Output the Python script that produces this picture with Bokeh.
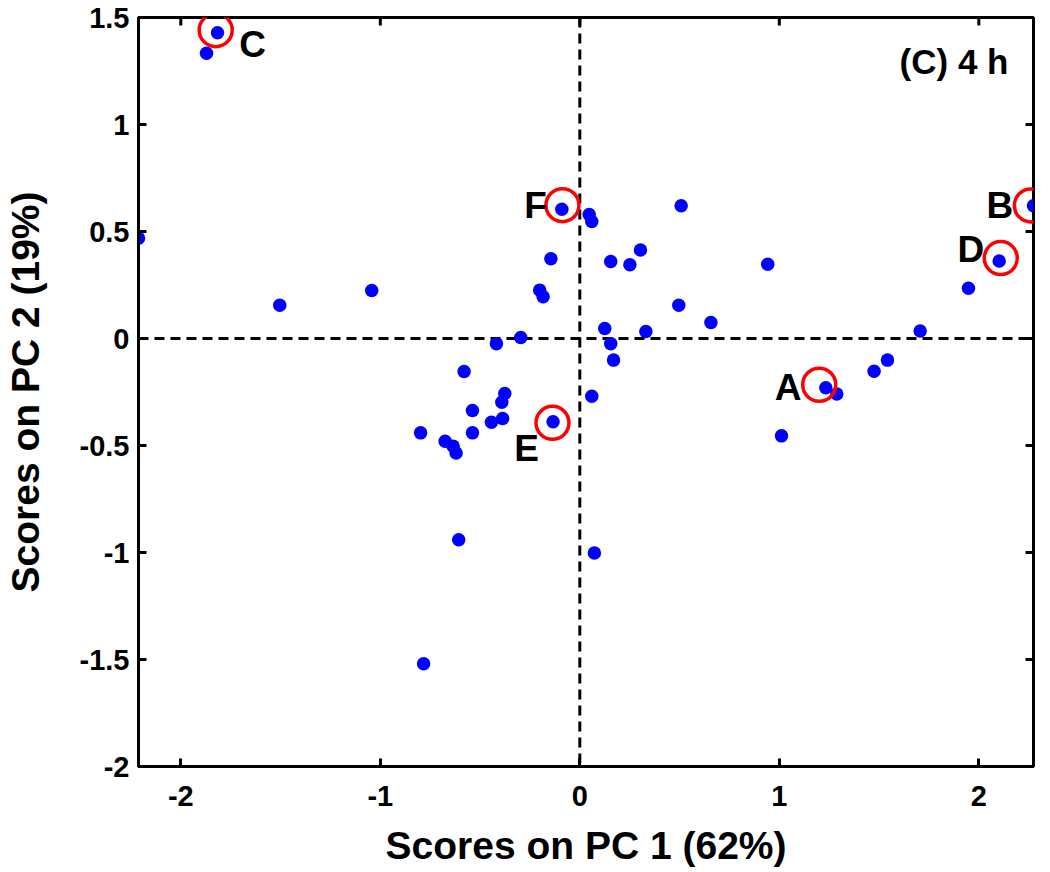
import math
from bokeh.plotting import figure
from bokeh.models import Range1d, FixedTicker, Span, ColumnDataSource, Label
from bokeh.core.properties import value
from bokeh.embed import file_html
from bokeh.resources import INLINE

# ---- data ----
pc1 = [-2.212, -1.871, -1.816, -1.504, -1.043, -0.580, -0.090, 0.047, 0.060, 0.508,
       -0.145, 0.155, 0.251, 0.304, 0.942, -0.201, -0.184, 0.496, 0.657, 0.125,
       0.331, -0.296, -0.418, 0.155, 0.169, -0.376, -0.391, 0.060, -0.538, -0.443,
       -0.387, -0.134, -0.798, -0.538, -0.675, -0.635, -0.620, -0.607, 0.073, -0.783,
       1.011, 1.233, 1.288, 1.475, 1.542, 1.706, 1.948, 2.102, 2.274]
pc2 = [0.469, 1.333, 1.429, 0.155, 0.224, -0.154, 0.604, 0.579, 0.547, 0.620,
       0.373, 0.360, 0.345, 0.414, 0.347, 0.226, 0.195, 0.155, 0.075, 0.047,
       0.033, 0.005, -0.024, -0.024, -0.101, -0.257, -0.298, -0.270, -0.336, -0.391,
       -0.374, -0.389, -0.441, -0.441, -0.480, -0.503, -0.535, -0.940, -1.002, -1.520,
       -0.455, -0.230, -0.259, -0.153, -0.101, 0.035, 0.235, 0.362, 0.620]

hl_labels = ["A", "B", "C", "D", "E", "F"]
hl_pc1 = [1.200, 2.261, -1.825, 2.110, -0.137, -0.087]
hl_pc2 = [-0.216, 0.622, 1.441, 0.376, -0.394, 0.623]

x_ticks = [-2, -1, 0, 1, 2]
x_tick_labels = ["-2", "-1", "0", "1", "2"]
y_ticks = [-2, -1.5, -1, -0.5, 0, 0.5, 1, 1.5]
y_tick_labels = ["-2", "-1.5", "-1", "-0.5", "0", "0.5", "1", "1.5"]

x_title = "Scores on PC 1 (62%)"
y_title = "Scores on PC 2 (19%)"
panel_title = "(C) 4 h"

# ---- layout / style ----
FONT = "Liberation Sans"
# label offsets in screen pixels (dx right, dy down) relative to circle centres
label_dx = {"A": -31, "B": -31, "C": 37, "D": -30, "E": -26, "F": -27}
label_dy = {"A": 3, "B": 0, "C": 14, "D": -9, "E": 26, "F": 0}

x_lo, x_hi = min(pc1), max(pc1)
y_lo, y_hi = -2, 1.5

p = figure(width=1040, height=870, output_backend="svg", toolbar_location=None,
           x_range=Range1d(x_lo, x_hi), y_range=Range1d(y_lo, y_hi),
           min_border_left=137, min_border_right=7, min_border_top=17, min_border_bottom=104,
           background_fill_color="white", border_fill_color="white")
p.grid.visible = False
p.outline_line_color = "black"
p.outline_line_width = 3

def style_axis(ax, ticks, labels):
    ax.ticker = FixedTicker(ticks=ticks)
    ax.major_label_overrides = {t: l for t, l in zip(ticks, labels)}
    ax.minor_tick_line_color = None
    ax.major_tick_in = 8
    ax.major_tick_out = 0
    ax.major_tick_line_width = 3
    ax.axis_line_width = 3
    ax.major_label_text_font = FONT
    ax.major_label_text_font_style = "bold"
    ax.major_label_text_color = "black"
    ax.major_label_text_font_size = "29px"

xa = p.xaxis[0]
ya = p.yaxis[0]
style_axis(xa, x_ticks, x_tick_labels)
style_axis(ya, y_ticks, y_tick_labels)
xa.major_label_standoff = 19
ya.major_label_standoff = 9
for ax, t in ((xa, x_title), (ya, y_title)):
    ax.axis_label = t
    ax.axis_label_text_font = FONT
    ax.axis_label_text_font_style = "bold"
    ax.axis_label_text_font_size = "39px"
    ax.axis_label_text_color = "black"
xa.axis_label_standoff = 15
ya.axis_label_standoff = 30

# inner tick marks on the top and right edges of the box (clipped by the frame)
p.scatter(x_ticks, [y_hi] * len(x_ticks), marker="dash", angle=math.pi / 2, size=16,
          line_color="black", line_width=3)
p.scatter([x_hi] * len(y_ticks), y_ticks, marker="dash", angle=0, size=16,
          line_color="black", line_width=3)

for dim in ("width", "height"):
    p.add_layout(Span(location=0, dimension=dim, line_color="black", line_width=3,
                      line_dash="10 6", level="underlay"))

p.scatter(pc1, pc2, size=13.5, fill_color="blue", line_color=None)

hl_src = ColumnDataSource(dict(
    x=hl_pc1, y=hl_pc2, text=hl_labels,
    dx=[label_dx[k] for k in hl_labels], dy=[label_dy[k] for k in hl_labels]))
p.scatter("x", "y", source=hl_src, size=33, fill_color=None, line_color="red", line_width=3.5)
p.text("x", "y", text="text", source=hl_src, x_offset="dx", y_offset="dy",
       text_font=value(FONT), text_font_style="bold", text_font_size="37px",
       text_align="center", text_baseline="middle", text_color="black")

p.add_layout(Label(x=x_hi, y=y_hi, x_offset=-25, y_offset=-44, text=panel_title,
                   text_font=FONT, text_font_style="bold", text_font_size="35px",
                   text_align="right", text_baseline="middle", text_color="black"))

open("out.html", "w").write(file_html(p, INLINE))
